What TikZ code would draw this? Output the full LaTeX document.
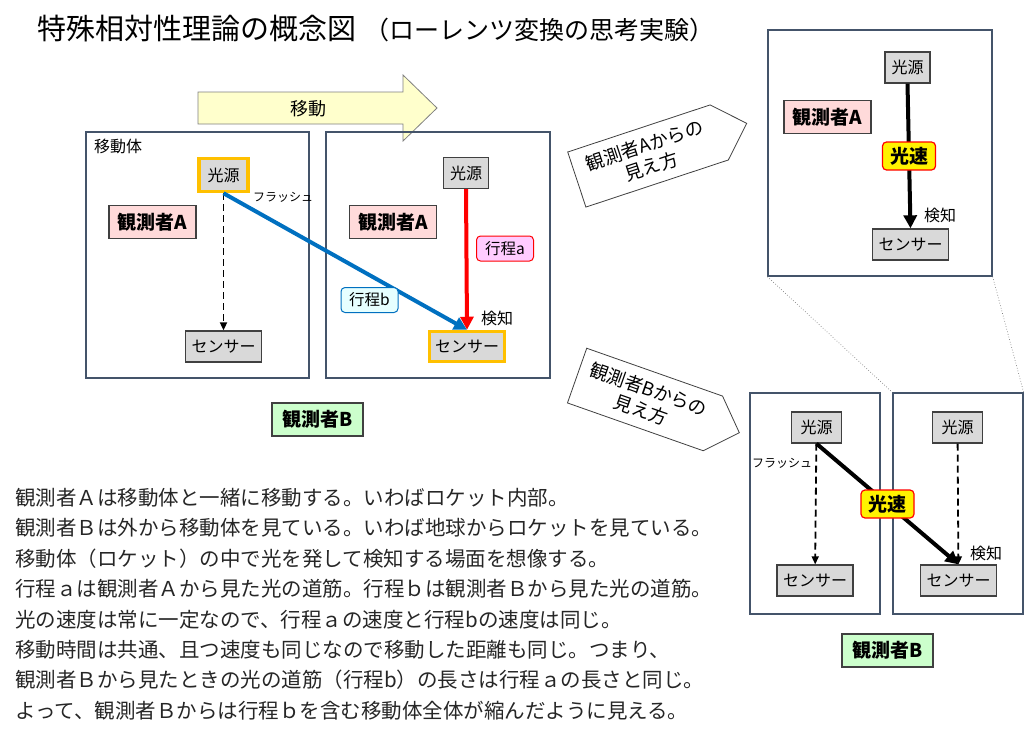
\documentclass[tikz,border=0pt]{standalone}
\usepackage{fontspec}
\setmainfont{Noto Sans CJK JP}
\usepackage{tikz}
\usetikzlibrary{arrows.meta, positioning, calc, shapes}

\definecolor{panelc}{HTML}{44546A}
\definecolor{partc}{HTML}{404040}
\definecolor{partfill}{HTML}{D9D9D9}
\definecolor{glow}{HTML}{FFC000}
\definecolor{pinkc}{HTML}{FFDADA}
\definecolor{greenc}{HTML}{CCFFCC}
\definecolor{bluec}{HTML}{0070C0}
\definecolor{movec}{HTML}{FFFFCC}
\definecolor{routeAc}{HTML}{FFCCFF}
\definecolor{routeBc}{HTML}{E6FFFF}
\definecolor{bodyc}{HTML}{262626}

\tikzset{
  panel/.style={draw=panelc, line width=1.3pt, inner sep=0pt},
  part/.style={draw=partc, fill=partfill, line width=1.3pt, inner sep=0pt,
    font=\fontsize{16}{19}\selectfont},
  lit/.style={draw=glow, line width=3.5pt},
  srcbox/.style={part, minimum width=45, minimum height=31},
  sensbox/.style={part, minimum width=76, minimum height=31},
  obsA/.style={draw=partc, fill=pinkc, line width=1.3pt, inner sep=0pt,
    minimum width=87, minimum height=33, font=\bfseries\fontsize{19}{21}\selectfont},
  obsB/.style={obsA, fill=greenc, minimum width=91},
  speed/.style={draw=red, fill=yellow, rounded corners=4pt, line width=1.2pt,
    inner sep=0pt, minimum width=53, minimum height=28,
    font=\bfseries\fontsize{19}{21}\selectfont},
  route/.style={rounded corners=4pt, line width=1pt, inner sep=0pt,
    minimum width=57, minimum height=25, font=\fontsize{15.5}{18}\selectfont},
  lbl/.style={inner sep=0pt, font=\fontsize{16}{19}\selectfont},
  flash/.style={inner sep=0pt, font=\fontsize{12}{14}\selectfont},
  dasharrow/.style={line width=1.8pt, dash pattern=on 7pt off 4pt,
    -{Triangle[length=8pt,width=7pt]}},
  thickarrow/.style={line width=4pt, -{Triangle[length=13pt,width=13pt]}},
  callout/.style={draw=partc, fill=white, line width=0.8pt},
  calltext/.style={inner sep=0pt, align=center, transform shape,
    font=\fontsize{18.5}{22}\selectfont},
  zoomline/.style={draw=gray, line width=0.7pt, dotted}
}

\begin{document}
\begin{tikzpicture}[x=1pt, y=-1pt]
\useasboundingbox (0,0) rectangle (1024,736);

\node[anchor=west, inner sep=0pt] (title) at (37,29)
  {{\fontsize{29}{32}\selectfont 特殊相対性理論の概念図}\hspace{8pt}{\fontsize{25}{30}\selectfont （ローレンツ変換の思考実験）}};

% moving arrow
\draw[draw=gray, fill=movec, line width=0.8pt]
  (198,92) -- (403,92) -- (403,75) -- (437,108) -- (403,141) -- (403,124) -- (198,124) -- cycle;
\node[lbl, font=\fontsize{18}{21}\selectfont] (move) at (308,109) {移動};

% moving body, seen by A
\node[panel, minimum width=223, minimum height=246] (P1) at (197.5,255) {};
\node[lbl, anchor=west] (body) at (94,146) {移動体};
\node[srcbox, lit, minimum width=49, minimum height=33] (L1) at (223.5,175) {光源};
\node[obsA] (A1) at (152.5,222) {観測者A};
\node[sensbox] (S1) at (223.5,346.5) {センサー};
\node[flash] (F1) at (283,197) {フラッシュ};
\draw[dasharrow] (L1) -- (S1);

% moving body, later
\node[panel, minimum width=224, minimum height=246] (P2) at (438,255) {};
\node[srcbox] (L2) at (466,173) {光源};
\node[obsA] (A2) at (393,222) {観測者A};
\node[sensbox, lit, minimum width=75, minimum height=30] (S2) at (467,346.5) {センサー};
\node[lbl] (K2) at (497,318) {検知};
\draw[thickarrow, red] (L2.south) -- (S2.north);
\draw[thickarrow, bluec] (L1.south) -- (S2.north);
\node[route, draw=red, fill=routeAc] (Ra) at (505,248.5) {行程a};
\node[route, draw=bluec, fill=routeBc] (Rb) at (369.5,300) {行程b};

\node[obsB] (B1) at (317.5,419.5) {観測者B};

% view of A
\begin{scope}[shift={(648,156)}, rotate=18.3]
\draw[callout] (-75,-29) -- (75,-29) -- (104,0) -- (75,29) -- (-75,29) -- cycle;
\node[calltext] (viewA) at (0,0) {観測者Aからの\\見え方};
\end{scope}

\node[panel, minimum width=224, minimum height=246] (P3) at (880,153) {};
\node[srcbox] (L3) at (907.5,67.5) {光源};
\node[obsA] (A3) at (827.5,117) {観測者A};
\node[sensbox] (S3) at (910.5,244.5) {センサー};
\node[lbl] (K3) at (940,215) {検知};
\draw[thickarrow] (L3.south) -- (S3.north) node[speed, midway] (C3) {光速};

% view of B
\begin{scope}[shift={(645,399.5)}, rotate=-19.4]
\draw[callout] (-72,-29) -- (72,-29) -- (100,0) -- (72,29) -- (-72,29) -- cycle;
\node[calltext] (viewB) at (0,0) {観測者Bからの\\見え方};
\end{scope}

\node[panel, minimum width=130, minimum height=221] (P4) at (815,503.5) {};
\node[panel, minimum width=130, minimum height=221] (P5) at (958,503.5) {};
\node[srcbox, minimum width=50] (L4) at (816.5,427.5) {光源};
\node[srcbox, minimum width=50] (L5) at (957.5,427.5) {光源};
\node[sensbox] (S4) at (815,580.5) {センサー};
\node[sensbox] (S5) at (958.5,580.5) {センサー};
\node[flash] (F4) at (782,463) {フラッシュ};
\node[lbl] (K5) at (986,553) {検知};
\draw[dasharrow] (L4) -- (S4);
\draw[dasharrow] (L5) -- (S5);
\draw[thickarrow] (L4.south) -- (S5.north) node[speed, midway] (C5) {光速};
\node[obsB] (B2) at (887.5,650.5) {観測者B};

\draw[zoomline] (P3.south west) -- (P5.north west);
\draw[zoomline] (P3.south east) -- (P5.north east);

% explanation
\node[anchor=north west, inner sep=0pt, align=left, text=bodyc,
  font=\fontsize{20.5}{30.4}\selectfont] (note) at (15,488) {%
観測者Ａは移動体と一緒に移動する。いわばロケット内部。\\
観測者Ｂは外から移動体を見ている。いわば地球からロケットを見ている。\\
移動体（ロケット）の中で光を発して検知する場面を想像する。\\
行程ａは観測者Ａから見た光の道筋。行程ｂは観測者Ｂから見た光の道筋。\\
光の速度は常に一定なので、行程ａの速度と行程bの速度は同じ。\\
移動時間は共通、且つ速度も同じなので移動した距離も同じ。つまり、\\
観測者Ｂから見たときの光の道筋（行程b）の長さは行程ａの長さと同じ。\\
よって、観測者Ｂからは行程ｂを含む移動体全体が縮んだように見える。};

%\draw[step=50,color=gray] (0,0) grid (1024,736);

\end{tikzpicture}
\end{document}
